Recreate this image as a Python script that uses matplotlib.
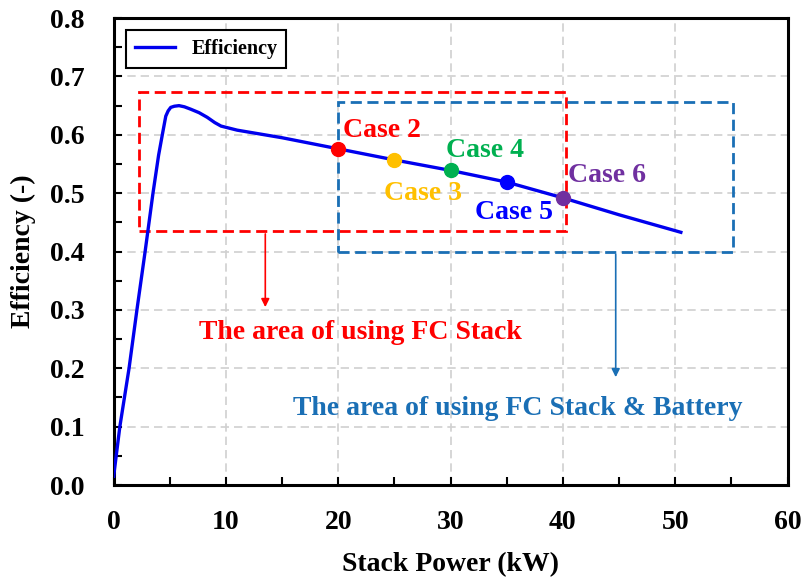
import numpy as np
import matplotlib
matplotlib.use('Agg')
import matplotlib.pyplot as plt
from matplotlib.patches import Rectangle

plt.rcParams['font.family'] = ['Liberation Serif', 'DejaVu Serif']
plt.rcParams['font.weight'] = 'bold'

# efficiency curve
power = [0.0, 0.55, 1.37, 2.07, 2.8, 3.5, 4.0, 4.33, 4.64, 4.85, 5.08, 5.4, 5.82, 6.3,
         6.85, 7.6, 8.33, 9.0, 9.56, 11.0, 15.0, 20.0, 25.0, 30.0, 35.0, 40.0, 45.0, 50.5]
eff = [0.015, 0.10, 0.20, 0.30, 0.40, 0.50, 0.565, 0.60, 0.632, 0.641, 0.647, 0.649,
       0.650, 0.648, 0.644, 0.638, 0.630, 0.621, 0.615, 0.608, 0.595, 0.576, 0.557,
       0.539, 0.519, 0.492, 0.463, 0.433]

case_names = ['Case 2', 'Case 3', 'Case 4', 'Case 5', 'Case 6']
case_power = [20, 25, 30, 35, 40]
case_eff = [0.576, 0.557, 0.539, 0.519, 0.492]
case_colors = ['#ff0000', '#ffc000', '#00b050', '#0000ff', '#7030a0']
label_pos = [(23.9, 0.607), (27.5, 0.499), (33.1, 0.574), (35.6, 0.467), (43.9, 0.530)]

blue = '#1a6fb5'

fig = plt.figure(figsize=(8.09, 5.84), dpi=100)
ax = fig.add_axes([0.1405, 0.1695, 0.833, 0.7995])

ax.plot(power, eff, color='#0000ee', lw=2.4, label='Efficiency', zorder=3,
        solid_joinstyle='round')
for p, e, c in zip(case_power, case_eff, case_colors):
    ax.plot(p, e, 'o', color=c, ms=10, zorder=4)
for name, (lx, ly), c in zip(case_names, label_pos, case_colors):
    ax.text(lx, ly, name, color=c, fontsize=20, fontweight='bold', ha='center', va='center')

# area boxes
red_box = Rectangle((2.25, 0.435), 38.05, 0.238, fill=False, ec='#ff0000', ls=(0, (4, 2)), lw=2, zorder=2)
blue_box = Rectangle((20.0, 0.40), 35.1, 0.256, fill=False, ec=blue, ls=(0, (4, 2)), lw=2, zorder=2)
ax.add_patch(red_box)
ax.add_patch(blue_box)

ax.annotate('', xy=(13.5, 0.30), xytext=(13.5, 0.435),
            arrowprops=dict(arrowstyle='-|>', color='#ff0000', lw=1.2, mutation_scale=12))
ax.annotate('', xy=(44.7, 0.18), xytext=(44.7, 0.40),
            arrowprops=dict(arrowstyle='-|>', color=blue, lw=1.2, mutation_scale=12))
ax.text(22.0, 0.2615, 'The area of using FC Stack', color='#ff0000', fontsize=20,
        fontweight='bold', ha='center', va='center')
ax.text(36.0, 0.1316, 'The area of using FC Stack & Battery', color=blue, fontsize=20,
        fontweight='bold', ha='center', va='center')

ax.set_xlim(0, 60)
ax.set_ylim(0, 0.8)
ax.set_xticks(np.arange(0, 61, 10))
ax.set_yticks(np.arange(0, 0.81, 0.1))
ax.set_xticks(np.arange(0, 61, 5), minor=True)
ax.set_yticks(np.arange(0, 0.81, 0.05), minor=True)
ax.set_yticklabels(['%.1f' % v for v in np.arange(0, 0.81, 0.1)])
ax.tick_params(which='both', direction='in', width=1.5, labelsize=20)
ax.tick_params(axis='x', which='major', pad=18)
ax.tick_params(axis='y', which='major', pad=21)
ax.tick_params(which='both', length=6)
ax.grid(True, which='major', color='#d0d0d0', ls=(0, (5, 3)), lw=1.2)
for s in ax.spines.values():
    s.set_linewidth(2.2)

ax.set_xlabel('Stack Power (kW)', fontsize=20, fontweight='bold', labelpad=12)
ax.set_ylabel('Efficiency (-)', fontsize=20, fontweight='bold', labelpad=10)

leg = ax.legend(loc='upper left', fontsize=14.5, frameon=True, fancybox=False,
                edgecolor='black', handlelength=2.0, borderaxespad=0.6,
                borderpad=0.45)
leg.get_frame().set_linewidth(1.5)
leg.get_frame().set_alpha(1)

fig.savefig('out.png', dpi=100)
